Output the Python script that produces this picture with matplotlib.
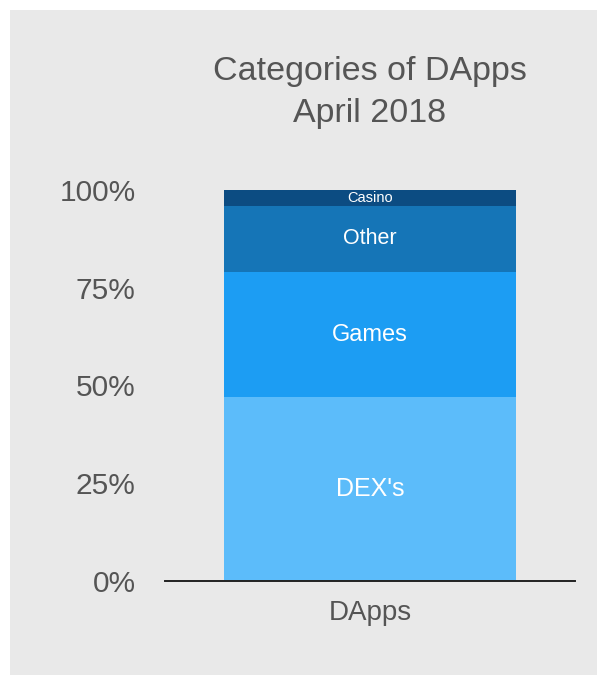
"""
Categories of DApps, April 2018 -- single 100% stacked bar.
"""

import matplotlib
matplotlib.use("Agg")
import matplotlib.pyplot as plt
from matplotlib.patches import Rectangle

# ---------------------------------------------------------------------------
# Data
# ---------------------------------------------------------------------------
group = "DApps"
categories = ["DEX's", "Games", "Other", "Casino"]
shares = [47, 32, 17, 4]  # percent of DApps
y_ticks = [0, 25, 50, 75, 100]
y_tick_labels = ["0%", "25%", "50%", "75%", "100%"]

# ---------------------------------------------------------------------------
# Style
# ---------------------------------------------------------------------------
seg_colors = ["#5cbcfa", "#1c9df3", "#1575b7", "#0c4c82"]
label_sizes = [18, 17, 15.5, 10.5]
PANEL = "#e9e9e9"
TEXT = "#555555"

plt.rcParams["font.family"] = ["Liberation Sans", "DejaVu Sans"]

W, H = 597, 675
fig = plt.figure(figsize=(W / 100, H / 100), dpi=100, facecolor="white")

# gray card behind the chart
fig.patches.append(Rectangle((10 / W, 0), 1 - 10 / W, 1 - 10 / H,
                             transform=fig.transFigure, facecolor=PANEL,
                             edgecolor="none", zorder=-10))

ax = fig.add_axes([165 / W, (H - 581) / H, 410 / W, 391 / H])
ax.set_facecolor(PANEL)
ax.patch.set_alpha(0)

bottom = 0
for cat, val, col, fs in zip(categories, shares, seg_colors, label_sizes):
    ax.bar(0, val, width=0.71, bottom=bottom, color=col, edgecolor="none")
    ax.text(0, bottom + val / 2, cat, ha="center", va="center",
            color="white", fontsize=fs)
    bottom += val

ax.set_xlim(-0.5, 0.5)
ax.set_ylim(0, 100)
ax.set_yticks(y_ticks)
ax.set_yticklabels(y_tick_labels)
ax.set_xticks([0])
ax.set_xticklabels([group])

ax.tick_params(axis="y", length=0, pad=21, labelsize=21.5, labelcolor=TEXT)
ax.tick_params(axis="x", length=0, pad=14, labelsize=20, labelcolor=TEXT)

for side in ["top", "right", "left"]:
    ax.spines[side].set_visible(False)
ax.spines["bottom"].set_color("#222222")
ax.spines["bottom"].set_linewidth(1.4)
ax.spines["bottom"].set_zorder(5)

fig.text(370 / W, 1 - 80 / H, "Categories of DApps", ha="center",
         va="baseline", fontsize=24.5, color=TEXT)
fig.text(370 / W, 1 - 122 / H, "April 2018", ha="center",
         va="baseline", fontsize=24.5, color=TEXT)

fig.savefig("out.png", dpi=100, facecolor="white")
